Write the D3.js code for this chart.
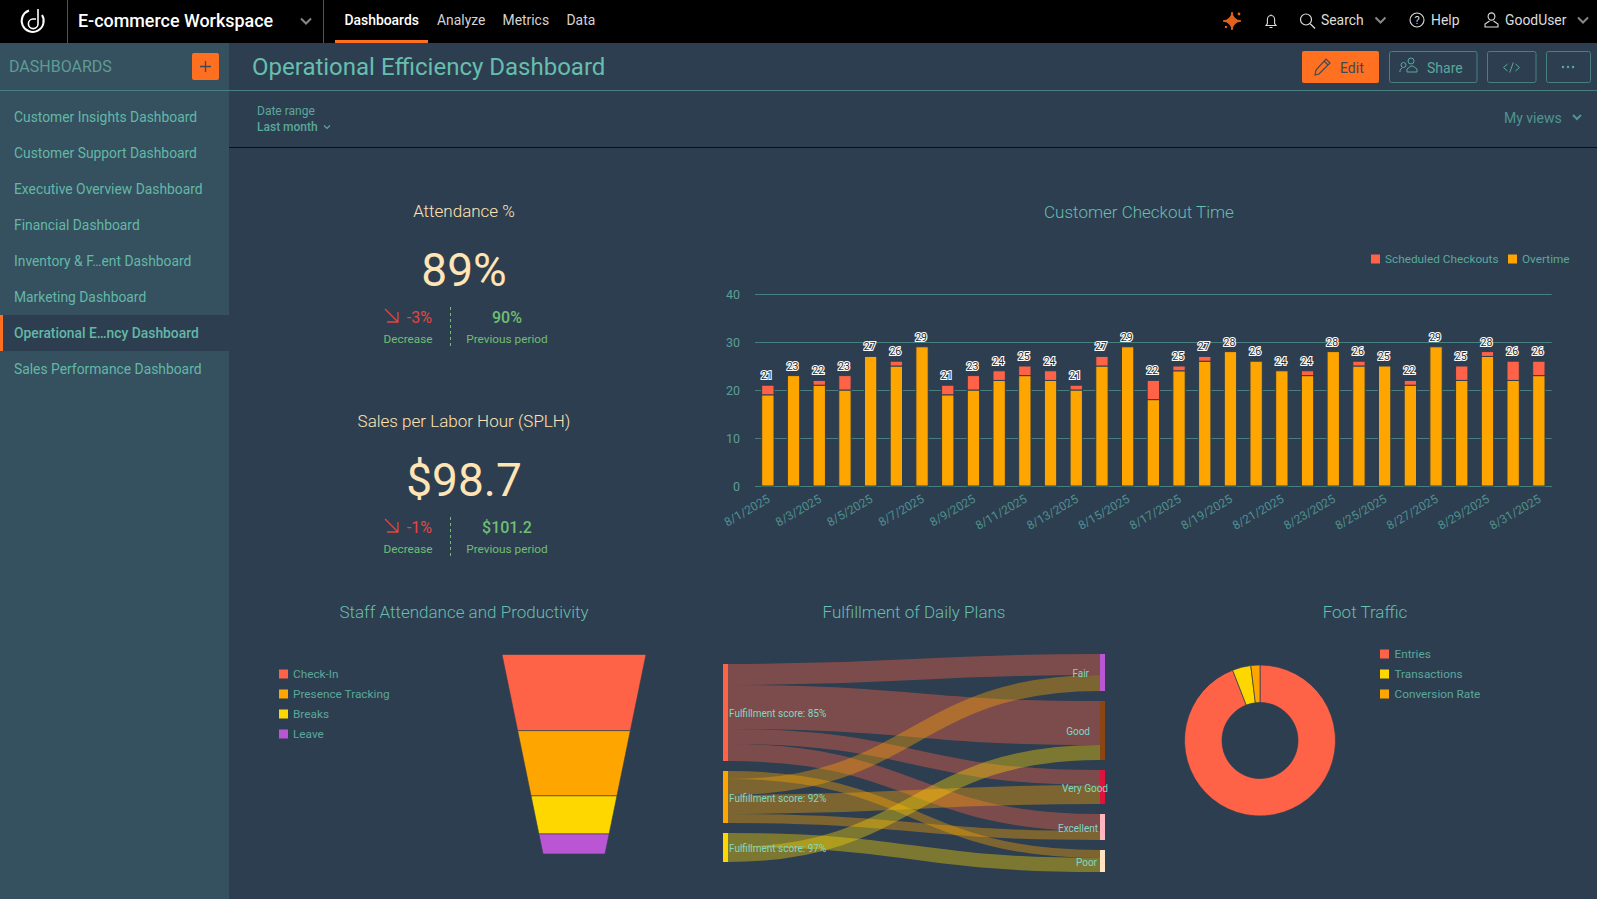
<!DOCTYPE html>
<html>
<head>
<meta charset="utf-8">
<script src="https://cdn.jsdelivr.net/npm/d3@7"></script>
<style>
  html, body { margin: 0; padding: 0; background: #2d3e50; overflow: hidden; }
  svg { display: block; font-family: Roboto, sans-serif; }
  svg text { dominant-baseline: central; }
</style>
</head>
<body>
<script>
const navItems = ['Dashboards', 'Analyze', 'Metrics', 'Data'];
const sideItems = ['Customer Insights Dashboard', 'Customer Support Dashboard', 'Executive Overview Dashboard',
  'Financial Dashboard', 'Inventory & F…ent Dashboard', 'Marketing Dashboard',
  'Operational E…ncy Dashboard', 'Sales Performance Dashboard'];
const activeSide = 'Operational E…ncy Dashboard';

const days = ['8/1/2025','8/2/2025','8/3/2025','8/4/2025','8/5/2025','8/6/2025','8/7/2025','8/8/2025','8/9/2025',
  '8/10/2025','8/11/2025','8/12/2025','8/13/2025','8/14/2025','8/15/2025','8/16/2025','8/17/2025','8/18/2025',
  '8/19/2025','8/20/2025','8/21/2025','8/22/2025','8/23/2025','8/24/2025','8/25/2025','8/26/2025','8/27/2025',
  '8/28/2025','8/29/2025','8/30/2025','8/31/2025'];
const overtime = [19,23,21,20,27,25,29,19,20,22,23,22,20,25,29,18,24,26,28,26,24,23,28,25,25,21,29,22,27,22,23];
const scheduled = [2,0,1,3,0,1,0,2,3,2,2,2,1,2,0,4,1,1,0,0,0,1,0,1,0,1,0,3,1,4,3];
const checkoutTicks = [0,10,20,30,40];

const funnelNames = ['Check-In','Presence Tracking','Breaks','Leave'];
const funnelValues = [76,65,38,20];
const funnelColors = ['#ff6347','#ffa500','#ffd700','#ba55d3'];

const trafficNames = ['Entries','Transactions','Conversion Rate'];
const trafficValues = [94.1,3.95,1.95];
const trafficColors = ['#ff6347','#ffd700','#ffa500'];

const planSources = ['Fulfillment score: 85%','Fulfillment score: 92%','Fulfillment score: 97%'];
const planTargets = ['Fair','Good','Very Good','Excellent','Poor'];
const planSourceColors = ['#ff6347','#ffa500','#ffd700'];
const planTargetColors = ['#ba55d3','#8b4513','#dc143c','#ffb6c1','#ffe4c4'];
const planFlows = [[0,0,21],[0,1,44],[0,2,15],[0,3,17],[1,4,8],[1,0,16],[1,2,19],[1,3,9],[2,4,14],[2,1,15]];
const planLabelShift = [-11,-10,8,-2,-3];

const kpis = [
  {title: 'Attendance %', value: '89%', delta: '-3%', prev: '90%', top: 211},
  {title: 'Sales per Labor Hour (SPLH)', value: '$98.7', delta: '-1%', prev: '$101.2', top: 421}
];

const TEAL = '#5aa89c';
const HEAD = '#66bfae';
const LINE = '#47807f';
const BG = '#2d3e50';

const svg = d3.select('body').append('svg').attr('width', 1597).attr('height', 899);

function label(parent, x, y, str, size, color, anchor, weight)
{
  return parent.append('text')
    .attr('x', x).attr('y', y)
    .attr('font-size', size)
    .attr('fill', color)
    .attr('text-anchor', anchor || 'start')
    .attr('font-weight', weight || 400)
    .text(str);
}

function chevron(x, y, w, color, sw)
{
  svg.append('path')
    .attr('d', `M${x - w},${y - w / 2}L${x},${y + w / 2}L${x + w},${y - w / 2}`)
    .attr('fill', 'none').attr('stroke', color).attr('stroke-width', sw || 1.6);
}

function icon(x, y, d, color, sw)
{
  return svg.append('path')
    .attr('transform', `translate(${x},${y})`)
    .attr('d', d)
    .attr('fill', 'none').attr('stroke', color).attr('stroke-width', sw || 1.2);
}

// page frame
svg.append('rect').attr('width', 1597).attr('height', 899).attr('fill', BG);
svg.append('rect').attr('y', 43).attr('width', 229).attr('height', 856).attr('fill', '#35505e');
svg.append('rect').attr('width', 1597).attr('height', 43).attr('fill', '#000');
svg.append('line').attr('x1', 0).attr('x2', 1597).attr('y1', 90.5).attr('y2', 90.5).attr('stroke', LINE);
svg.append('line').attr('x1', 229).attr('x2', 1597).attr('y1', 147.5).attr('y2', 147.5).attr('stroke', '#0c0f14').attr('stroke-width', 1.2);

// top bar
icon(33, 21, 'M-4,-10.5A11,11 0 1 0 9,-6', '#fff', 2);
icon(33, 21, 'M5,-12L5,3A4.8,4.8 0 1 1 0,-2L3,-2', '#fff', 1.6);
svg.append('line').attr('x1', 67.5).attr('x2', 67.5).attr('y1', 0).attr('y2', 43).attr('stroke', '#555');
svg.append('line').attr('x1', 323.5).attr('x2', 323.5).attr('y1', 0).attr('y2', 43).attr('stroke', '#555');
label(svg, 78, 20.5, 'E-commerce Workspace', 17.9, '#fff', 'start', 500);
chevron(306, 21, 5, '#888', 2);

const navX = [344.5, 437, 502.5, 566.5];
navItems.forEach((n, i) => {
  label(svg, navX[i], 20, n, 13.9, i === 0 ? '#fff' : '#d4d4d4', 'start', i === 0 ? 500 : 400);
});
svg.append('rect').attr('x', 335).attr('y', 40).attr('width', 93).attr('height', 3).attr('fill', '#ff6f20');

icon(1232, 21, 'M0,-9Q1,-1 9,0Q1,1 0,9Q-1,1 -9,0Q-1,-1 0,-9Z', '#e0621e', 1).attr('fill', '#e0621e');
svg.append('circle').attr('cx', 1239).attr('cy', 14).attr('r', 1.4).attr('fill', '#e0621e');
svg.append('circle').attr('cx', 1226).attr('cy', 27).attr('r', 1.2).attr('fill', '#e0621e');
icon(1271, 21, 'M-5,4.5L-3.6,2.5L-3.6,-1.5A3.6,4 0 0 1 3.6,-1.5L3.6,2.5L5,4.5ZM-1.5,6.5L1.5,6.5M0,-5.5L0,-6.5', '#ddd', 1.1);
icon(1306, 19.5, 'M4,4L9,9M5.5,0A5.5,5.5 0 1 1 -5.5,0A5.5,5.5 0 1 1 5.5,0', '#ddd', 1.2);
label(svg, 1321, 20, 'Search', 13.9, '#ddd');
chevron(1380.5, 20, 5, '#888', 2);
svg.append('circle').attr('cx', 1417).attr('cy', 20).attr('r', 7).attr('fill', 'none').attr('stroke', '#ddd').attr('stroke-width', 1.1);
label(svg, 1417, 20, '?', 11, '#ddd', 'middle');
label(svg, 1431, 20, 'Help', 13.9, '#ddd');
icon(1491.5, 20, 'M3.4,-3.5A3.4,3.6 0 1 1 -3.4,-3.5A3.4,3.6 0 1 1 3.4,-3.5M-2,1L-6.5,4L-6.5,7L6.5,7L6.5,4L2,1', '#ddd', 1.1);
label(svg, 1505, 20, 'GoodUser', 13.9, '#ddd');
chevron(1583, 20, 5, '#888', 2);

// sidebar
label(svg, 9, 66.5, 'DASHBOARDS', 16, '#5f9c96');
svg.append('rect').attr('x', 192).attr('y', 53).attr('width', 27).attr('height', 27).attr('rx', 2).attr('fill', '#ff6f20');
icon(205.5, 66.5, 'M-5.5,0L5.5,0M0,-5.5L0,5.5', '#3b4a5a', 1.3);

const sideRow = d3.scaleBand().domain(sideItems).range([99, 387]);
svg.append('rect').attr('x', 0).attr('y', sideRow(activeSide)).attr('width', 229).attr('height', sideRow.bandwidth()).attr('fill', BG);
svg.append('rect').attr('x', 0).attr('y', sideRow(activeSide)).attr('width', 3).attr('height', sideRow.bandwidth()).attr('fill', '#ff6f20');
svg.selectAll('.side').data(sideItems).enter().append('text')
  .attr('class', 'side')
  .attr('x', 14)
  .attr('y', d => sideRow(d) + sideRow.bandwidth() / 2)
  .attr('font-size', 13.85)
  .attr('font-weight', d => d === activeSide ? 500 : 400)
  .attr('fill', '#62b8a8')
  .text(d => d);

// title row
label(svg, 252, 66.5, 'Operational Efficiency Dashboard', 24, HEAD);
svg.append('rect').attr('x', 1302).attr('y', 51).attr('width', 77).attr('height', 32).attr('rx', 2).attr('fill', '#ff7020');
icon(1322, 67, 'M-7,8L-6,3L4,-8L8,-4L-3,7ZM2,-6L6,-2', '#3b4a5a', 1.2);
label(svg, 1340, 67.5, 'Edit', 14, '#3b4a5a');
[[1389, 87.5], [1487, 48.5], [1546, 44]].forEach(b => {
  svg.append('rect').attr('x', b[0] + 0.5).attr('y', 51.5).attr('width', b[1]).attr('height', 31).attr('rx', 2)
    .attr('fill', 'none').attr('stroke', LINE);
});
icon(1409, 66, 'M-1,-5A3,3 0 1 1 5,-5A3,3 0 1 1 -1,-5M-8,-1A2.5,2.5 0 1 1 -3,-1A2.5,2.5 0 1 1 -8,-1M-2,6L-2,3L2,0L4,0L8,3L8,6ZM-9,6L-9,4L-7,2', TEAL, 1);
label(svg, 1427, 67.5, 'Share', 14, TEAL);
icon(1511.5, 67.5, 'M-4,-3.5L-8,0L-4,3.5M4,-3.5L8,0L4,3.5M1.8,-5L-1.8,5', TEAL, 1);
[-5, 0, 5].forEach(dx => {
  svg.append('circle').attr('cx', 1568 + dx).attr('cy', 67).attr('r', 1.2).attr('fill', TEAL);
});

// filters
label(svg, 257, 110.5, 'Date range', 12, TEAL);
label(svg, 257, 126.5, 'Last month', 12, TEAL, 'start', 500);
chevron(327, 127, 3, TEAL, 1.2);
label(svg, 1504, 118, 'My views', 14, '#4f9590');
chevron(1577, 117, 4, '#4f9590', 2);

// KPI cards
kpis.forEach(k => {
  const y = k.top;
  label(svg, 464, y, k.title, 17, '#ffe4b5', 'middle', 300);
  label(svg, 464, y + 59, k.value, 46, '#ffe4b5', 'middle');
  icon(385, y + 98, 'M0,0L13,13M13,3L13,13L2,13', '#e5473e', 1.3);
  label(svg, 432, y + 106, k.delta, 16, '#e5473e', 'end');
  label(svg, 408, y + 128, 'Decrease', 11.8, '#6fbf73', 'middle');
  svg.append('line').attr('x1', 450.5).attr('x2', 450.5).attr('y1', y + 96).attr('y2', y + 136)
    .attr('stroke', '#6fbf73').attr('stroke-dasharray', '3,3');
  label(svg, 507, y + 106, k.prev, 16, '#6fbf73', 'middle', 500);
  label(svg, 507, y + 128, 'Previous period', 11.8, '#6fbf73', 'middle');
});

// checkout chart
label(svg, 1139, 212, 'Customer Checkout Time', 17, HEAD, 'middle', 300);
const legendCheckout = [[1371, 'Scheduled Checkouts', '#ff6347'], [1508, 'Overtime', '#ffa500']];
legendCheckout.forEach(l => {
  svg.append('rect').attr('x', l[0]).attr('y', 254.5).attr('width', 9).attr('height', 9).attr('fill', l[2]);
  label(svg, l[0] + 14, 259, l[1], 11.8, TEAL);
});

const x = d3.scaleBand().domain(days).range([755, 1551.7]).paddingInner(0.52).paddingOuter(0.26);
const y = d3.scaleLinear().domain([0, 40]).range([486, 294]);

const yAxis = svg.append('g').attr('transform', 'translate(755,0)')
  .call(d3.axisLeft(y).tickValues(checkoutTicks).tickSize(-796.7).tickPadding(15));
yAxis.select('.domain').remove();
yAxis.selectAll('line').attr('stroke', LINE);
yAxis.selectAll('text').attr('fill', '#5a9e96').attr('font-size', 12.5).attr('font-family', 'Roboto').attr('dy', 0);

const xAxis = svg.append('g').attr('transform', 'translate(0,486)')
  .call(d3.axisBottom(x).tickValues(days.filter((d, i) => i % 2 === 0)).tickSize(0));
xAxis.select('.domain').attr('stroke', LINE);
xAxis.selectAll('text')
  .attr('fill', '#4f8f8e').attr('font-size', 12).attr('font-family', 'Roboto')
  .attr('text-anchor', 'end').attr('dy', 0)
  .attr('transform', 'translate(1,12) rotate(-30)')
  .attr('y', 0);

const bars = svg.append('g');
bars.selectAll('.ot').data(days).enter().append('rect')
  .attr('x', d => x(d)).attr('width', x.bandwidth())
  .attr('y', (d, i) => y(overtime[i]))
  .attr('height', (d, i) => y(0) - y(overtime[i]))
  .attr('fill', '#ffa500').attr('stroke', BG).attr('stroke-width', 1);
bars.selectAll('.sc').data(days).enter().append('rect')
  .attr('x', d => x(d)).attr('width', x.bandwidth())
  .attr('y', (d, i) => y(overtime[i] + scheduled[i]))
  .attr('height', (d, i) => y(overtime[i]) - y(overtime[i] + scheduled[i]))
  .attr('fill', '#ff6347').attr('stroke', BG).attr('stroke-width', 1);
bars.selectAll('.total').data(days).enter().append('text')
  .attr('x', d => x(d) + x.bandwidth() / 2 - 1)
  .attr('y', (d, i) => y(overtime[i] + scheduled[i]) - 9.5)
  .attr('text-anchor', 'middle')
  .attr('font-size', 10.5)
  .attr('fill', '#2b2b2b').attr('stroke', '#fff').attr('stroke-width', 2.2).attr('paint-order', 'stroke')
  .text((d, i) => overtime[i] + scheduled[i]);

// funnel chart
label(svg, 464, 612, 'Staff Attendance and Productivity', 17, HEAD, 'middle', 300);
funnelNames.forEach((n, i) => {
  svg.append('rect').attr('x', 279).attr('y', 669.5 + i * 20).attr('width', 9).attr('height', 9).attr('fill', funnelColors[i]);
  label(svg, 293, 674 + i * 20, n, 11.8, TEAL);
});
const funnelTotal = d3.sum(funnelValues);
const funnelY = d3.scaleLinear().domain([0, funnelTotal]).range([654.5, 854]);
const funnelW = d3.scaleLinear().domain([0, funnelTotal]).range([144, 62]);
const funnelLine = d3.line();
let funnelSum = 0;
funnelValues.forEach((v, i) => {
  const a = funnelSum, b = funnelSum + v;
  funnelSum = b;
  svg.append('path')
    .attr('d', funnelLine([
      [574 - funnelW(a) / 2, funnelY(a)], [574 + funnelW(a) / 2, funnelY(a)],
      [574 + funnelW(b) / 2, funnelY(b)], [574 - funnelW(b) / 2, funnelY(b)]
    ]) + 'Z')
    .attr('fill', funnelColors[i]).attr('stroke', BG).attr('stroke-opacity', 0.6).attr('stroke-width', 1);
});

// sankey, flows are stacked by hand since d3-sankey is not in the core bundle
label(svg, 914, 612, 'Fulfillment of Daily Plans', 17, HEAD, 'middle', 300);
const planPx = d3.scaleLinear().domain([0, 178]).range([0, 178]);
const sourceTotals = planSources.map((s, i) => d3.sum(planFlows.filter(f => f[0] === i), f => f[2]));
const targetTotals = planTargets.map((s, i) => d3.sum(planFlows.filter(f => f[1] === i), f => f[2]));
const stackTops = (totals, start) => {
  let pos = start;
  return totals.map(t => { const top = pos; pos += planPx(t) + 10; return top; });
};
const sourceTops = stackTops(sourceTotals, 664);
const targetTops = stackTops(targetTotals, 654);
const sourceUsed = planSources.map(() => 0);
const targetUsed = planTargets.map(() => 0);
const planLink = d3.linkHorizontal();

svg.append('g').selectAll('path').data(planFlows).enter().append('path')
  .attr('d', f => {
    const h = planPx(f[2]);
    const y0 = sourceTops[f[0]] + sourceUsed[f[0]] + h / 2;
    const y1 = targetTops[f[1]] + targetUsed[f[1]] + h / 2;
    sourceUsed[f[0]] += h;
    targetUsed[f[1]] += h;
    return planLink({source: [728, y0], target: [1100, y1]});
  })
  .attr('fill', 'none')
  .attr('stroke', f => planSourceColors[f[0]])
  .attr('stroke-opacity', 0.38)
  .attr('stroke-width', f => planPx(f[2]));

planSources.forEach((n, i) => {
  svg.append('rect').attr('x', 723).attr('y', sourceTops[i]).attr('width', 5).attr('height', planPx(sourceTotals[i])).attr('fill', planSourceColors[i]);
  label(svg, 729, sourceTops[i] + planPx(sourceTotals[i]) / 2 + 1, n, 10, '#7fd8c4');
});
planTargets.forEach((n, i) => {
  svg.append('rect').attr('x', 1100).attr('y', targetTops[i]).attr('width', 5).attr('height', planPx(targetTotals[i])).attr('fill', planTargetColors[i]);
  label(svg, 1100 + planLabelShift[i], targetTops[i] + planPx(targetTotals[i]) / 2 + 1, n, 10, '#7fd8c4', 'end');
});

// donut
label(svg, 1365, 612, 'Foot Traffic', 17, HEAD, 'middle', 300);
trafficNames.forEach((n, i) => {
  svg.append('rect').attr('x', 1380).attr('y', 649.5 + i * 20).attr('width', 9).attr('height', 9).attr('fill', trafficColors[i]);
  label(svg, 1394.5, 654 + i * 20, n, 11.8, TEAL);
});
const pie = d3.pie().sort(null)(trafficValues);
const arc = d3.arc().innerRadius(38).outerRadius(75.5);
svg.append('g').attr('transform', 'translate(1260,740.5)')
  .selectAll('path').data(pie).enter().append('path')
  .attr('d', arc)
  .attr('fill', (d, i) => trafficColors[i])
  .attr('stroke', BG).attr('stroke-width', 0.7);
</script>
</body>
</html>
